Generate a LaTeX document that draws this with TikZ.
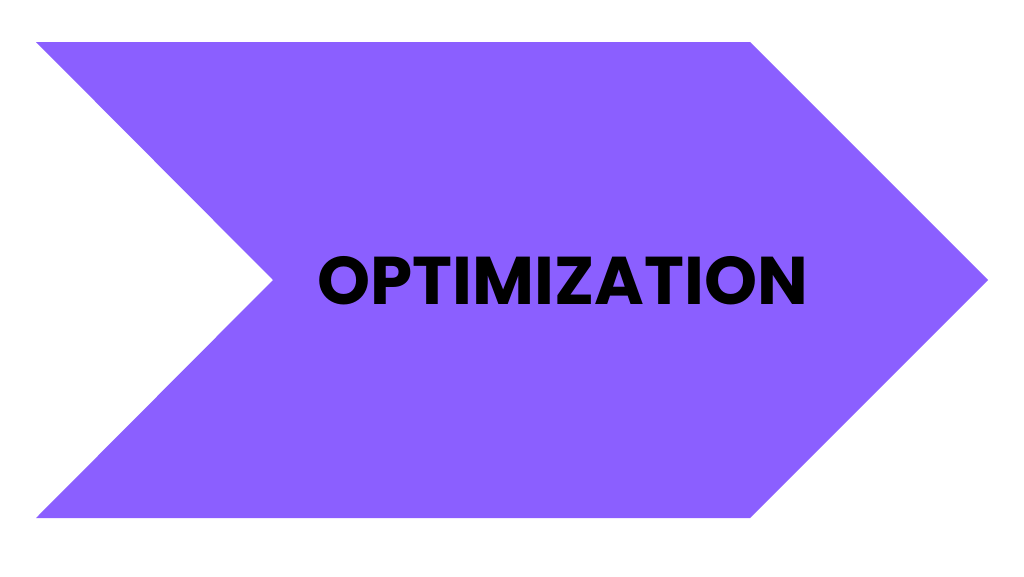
\documentclass[tikz,border=0pt]{standalone}
\usepackage{fontspec}
\newfontfamily\popb{Poppins}[UprightFont=* Bold]
\definecolor{chev}{HTML}{8B5FFF}
\begin{document}
\begin{tikzpicture}[x=1pt,y=-1pt,
  chevshape/.style={fill=chev,draw=none},
  lbl/.style={font=\popb\fontsize{67.5}{70}\selectfont,text=black,inner sep=0pt,anchor=center}]
\useasboundingbox[fill=white] (0,0) rectangle (1024,576);
\fill[chevshape] (36,42) -- (750,42) -- (988,280) -- (750,518) -- (36,518) -- (273,280) -- cycle;
\node[lbl] (t) at (563,281) {OPTIMIZATION};
\end{tikzpicture}
\end{document}
